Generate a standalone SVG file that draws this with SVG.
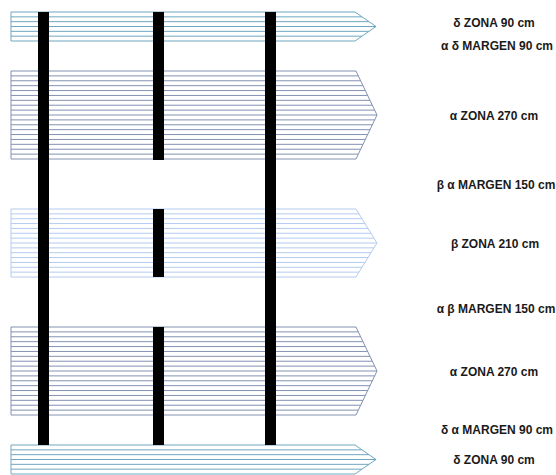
<svg xmlns="http://www.w3.org/2000/svg" xmlns:xlink="http://www.w3.org/1999/xlink" width="556" height="475" viewBox="0 0 556 475">
<style>
  .lbl { font-family: "Liberation Sans", Arial, sans-serif; font-size: 12px; font-weight: bold; fill: #1a1a1a; text-anchor: middle; }
  .teal { stroke: #6fa7c0; stroke-width: 1; fill: none; }
  .grey { stroke: #8391b2; stroke-width: 1; fill: none; }
  .light { stroke: #b3cbf0; stroke-width: 1; fill: none; }
  .bar { fill: #000; stroke: none; }
</style>
<defs>
  <g id="bigArrow">
    <polygon points="11,71 356,71 377,115 356,159 11,159"/>
    <line x1="11" y1="75.89" x2="358.3" y2="75.89"/>
    <line x1="11" y1="80.78" x2="360.7" y2="80.78"/>
    <line x1="11" y1="85.67" x2="363" y2="85.67"/>
    <line x1="11" y1="90.56" x2="365.3" y2="90.56"/>
    <line x1="11" y1="95.44" x2="367.7" y2="95.44"/>
    <line x1="11" y1="100.33" x2="370" y2="100.33"/>
    <line x1="11" y1="105.22" x2="372.3" y2="105.22"/>
    <line x1="11" y1="110.11" x2="374.7" y2="110.11"/>
    <line x1="11" y1="115" x2="377" y2="115"/>
    <line x1="11" y1="119.89" x2="374.7" y2="119.89"/>
    <line x1="11" y1="124.78" x2="372.3" y2="124.78"/>
    <line x1="11" y1="129.67" x2="370" y2="129.67"/>
    <line x1="11" y1="134.56" x2="367.7" y2="134.56"/>
    <line x1="11" y1="139.44" x2="365.3" y2="139.44"/>
    <line x1="11" y1="144.33" x2="363" y2="144.33"/>
    <line x1="11" y1="149.22" x2="360.7" y2="149.22"/>
    <line x1="11" y1="154.11" x2="358.3" y2="154.11"/>
  </g>
  <g id="smallArrow">
    <polygon points="11,12 355,12 376,26.5 355,41 11,41"/>
    <line x1="11" y1="16.83" x2="362" y2="16.83"/>
    <line x1="11" y1="21.67" x2="369" y2="21.67"/>
    <line x1="11" y1="26.5" x2="376" y2="26.5"/>
    <line x1="11" y1="31.33" x2="369" y2="31.33"/>
    <line x1="11" y1="36.17" x2="362" y2="36.17"/>
  </g>
</defs>

<g id="arrow-delta-top" class="teal">
  <use xlink:href="#smallArrow"/>
</g>
<g id="arrow-alpha-1" class="grey">
  <use xlink:href="#bigArrow"/>
</g>
<g id="arrow-beta" class="light">
  <polygon points="11,209 356,209 377,243 356,277 11,277"/>
  <line x1="11" y1="213.86" x2="359" y2="213.86"/>
  <line x1="11" y1="218.71" x2="362" y2="218.71"/>
  <line x1="11" y1="223.57" x2="365" y2="223.57"/>
  <line x1="11" y1="228.43" x2="368" y2="228.43"/>
  <line x1="11" y1="233.29" x2="371" y2="233.29"/>
  <line x1="11" y1="238.14" x2="374" y2="238.14"/>
  <line x1="11" y1="243" x2="377" y2="243"/>
  <line x1="11" y1="247.86" x2="374" y2="247.86"/>
  <line x1="11" y1="252.71" x2="371" y2="252.71"/>
  <line x1="11" y1="257.57" x2="368" y2="257.57"/>
  <line x1="11" y1="262.43" x2="365" y2="262.43"/>
  <line x1="11" y1="267.29" x2="362" y2="267.29"/>
  <line x1="11" y1="272.14" x2="359" y2="272.14"/>
</g>
<g id="arrow-alpha-2" class="grey">
  <use xlink:href="#bigArrow" y="256"/>
</g>
<g id="arrow-delta-bottom" class="teal">
  <use xlink:href="#smallArrow" y="433"/>
</g>

<g id="posts">
  <rect class="bar" x="38" y="12" width="11" height="433"/>
  <rect class="bar" x="153" y="12" width="11" height="148"/>
  <rect class="bar" x="153" y="209" width="11" height="68"/>
  <rect class="bar" x="153" y="327" width="11" height="118"/>
  <rect class="bar" x="265" y="12" width="11" height="433"/>
</g>

<g id="labels">
  <text class="lbl" x="494" y="27">δ ZONA 90 cm</text>
  <text class="lbl" x="497" y="50">α δ MARGEN 90 cm</text>
  <text class="lbl" x="494" y="120">α ZONA 270 cm</text>
  <text class="lbl" x="496" y="189">β α MARGEN 150 cm</text>
  <text class="lbl" x="495" y="248">β ZONA 210 cm</text>
  <text class="lbl" x="496" y="313">α β MARGEN 150 cm</text>
  <text class="lbl" x="494" y="376">α ZONA 270 cm</text>
  <text class="lbl" x="497" y="434">δ α MARGEN 90 cm</text>
  <text class="lbl" x="494" y="464">δ ZONA 90 cm</text>
</g>
</svg>
